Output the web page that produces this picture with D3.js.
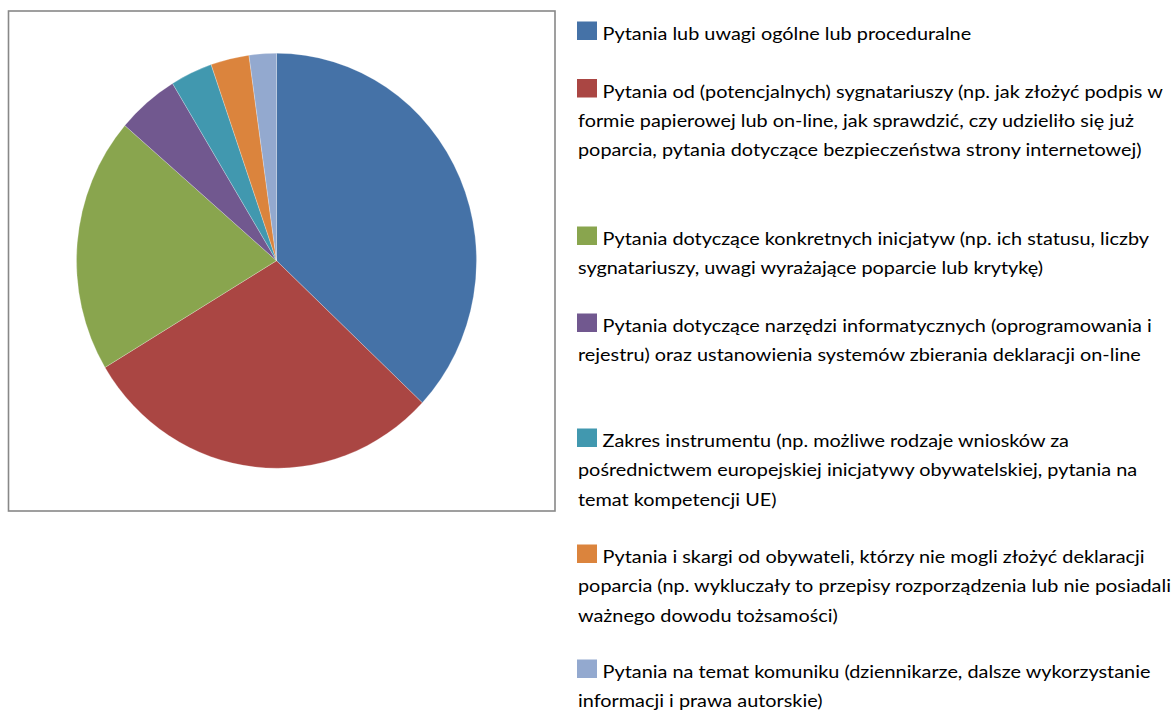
<!DOCTYPE html>
<html>
<head>
<meta charset="utf-8">
<script src="https://cdn.jsdelivr.net/npm/d3@7"></script>
<style>
  body { margin: 0; background: #fff; }
  svg { display: block; }
  .legend text { font-family: Lato, "Open Sans", sans-serif; font-size: 16.5px; fill: #000; }
</style>
</head>
<body>
<svg id="chart" width="1175" height="713"></svg>
<script>

// categories (legend text, already split in lines as in the original)
var categories = [
	["Pytania lub uwagi ogólne lub proceduralne"],
	["Pytania od (potencjalnych) sygnatariuszy (np. jak złożyć podpis w",
	 "formie papierowej lub on-line, jak sprawdzić, czy udzieliło się już",
	 "poparcia, pytania dotyczące bezpieczeństwa strony internetowej)"],
	["Pytania dotyczące konkretnych inicjatyw (np. ich statusu, liczby",
	 "sygnatariuszy, uwagi wyrażające poparcie lub krytykę)"],
	["Pytania dotyczące narzędzi informatycznych (oprogramowania i",
	 "rejestru) oraz ustanowienia systemów zbierania deklaracji on-line"],
	["Zakres instrumentu (np. możliwe rodzaje wniosków za",
	 "pośrednictwem europejskiej inicjatywy obywatelskiej, pytania na",
	 "temat kompetencji UE)"],
	["Pytania i skargi od obywateli, którzy nie mogli złożyć deklaracji",
	 "poparcia (np. wykluczały to przepisy rozporządzenia lub nie posiadali",
	 "ważnego dowodu tożsamości)"],
	["Pytania na temat komuniku (dziennikarze, dalsze wykorzystanie",
	 "informacji i prawa autorskie)"]
];

// share of questions per category (%)
var values = [37.0, 29.4, 19.9, 5.0, 3.4, 3.1, 2.2];

var colors = ["#4572A7", "#AA4643", "#89A54E", "#71588F", "#4198AF", "#DB843D", "#93A9CF"];

// layout
var svg = d3.select("#chart");
var centre = { x: 276.5, y: 260.7 };
var radius = 200;
var stretchY = 1.0375;
var legendX = 577;
var legendTops = [40, 97.5, 245, 332, 447, 563, 678];
var lineHeight = 29.3;

// frame round the plot
svg.append("rect")
	.attr("x", 8.5)
	.attr("y", 11)
	.attr("width", 546.5)
	.attr("height", 500)
	.attr("fill", "none")
	.attr("stroke", "#888")
	.attr("stroke-width", 1.6);

var pie = d3.pie()
	.sort(null)
	.value(function(d) { return d; });

var arc = d3.arc()
	.innerRadius(0)
	.outerRadius(radius);

var pieGroup = svg.append("g")
	.attr("transform", "translate(" + centre.x + "," + centre.y + ") scale(1," + stretchY + ")");

pieGroup.selectAll("path")
	.data(pie(values))
	.enter().append("path")
	.attr("d", arc)
	.attr("fill", function(d, i) { return colors[i]; })
	.attr("stroke", "#fff")
	.attr("stroke-width", 0.4)
	.attr("stroke-opacity", 0.6);

// legend
var legend = svg.append("g").attr("class", "legend");

var items = legend.selectAll("g")
	.data(categories)
	.enter().append("g")
	.attr("transform", function(d, i) { return "translate(0," + legendTops[i] + ")"; });

items.append("rect")
	.attr("x", legendX)
	.attr("y", -18.5)
	.attr("width", 20)
	.attr("height", 18.5)
	.attr("fill", function(d, i) { return colors[i]; });

var texts = items.selectAll("text")
	.data(function(d) { return d; })
	.enter().append("text")
	.text(function(d) { return d; });

// squeeze the text a bit so the longest line ends where it does in the original
var widest = 0;
texts.each(function() { widest = Math.max(widest, this.getComputedTextLength()); });
var sx = 593 / widest;

texts.attr("transform", function(d, j) {
	var x = j == 0 ? legendX + 25.5 : legendX + 1;
	return "translate(" + x + "," + (j * lineHeight) + ") scale(" + sx + ",1)";
});

</script>
</body>
</html>
